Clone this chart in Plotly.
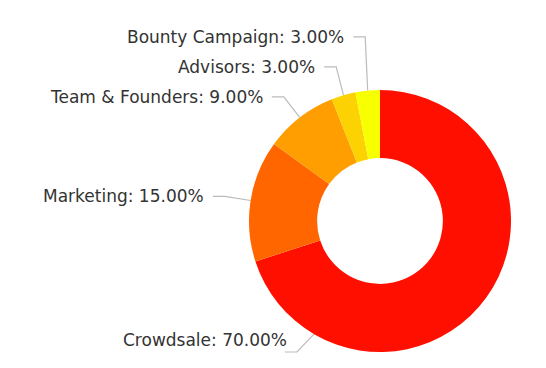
import math
import plotly.graph_objects as go

# ---- data ----
labels = ["Crowdsale", "Marketing", "Team & Founders", "Advisors", "Bounty Campaign"]
values = [70, 15, 9, 3, 3]
colors = ["#FF0F00", "#FF6600", "#FF9E01", "#FCD202", "#F8FF01"]

# ---- layout constants (page pixels) ----
PAGE_W, PAGE_H = 546, 368
OFF = 8                      # default page body margin
W, H = PAGE_W - 2 * OFF, PAGE_H - 2 * OFF
CX, CY, R = 380, 221, 131
HOLE = 0.48
ELBOW_R = 157
MIN_GAP = 30
TICK = 12
TEXT_GAP = 7
LEFT_FRAC = 0.42
MAX_ELBOW_Y = 352
MAX_TEXT_Y = 340

total = sum(values)
start = 0.0
anchors = []
for v in values:
    a0 = start / total * 360
    a1 = (start + v) / total * 360
    mid = (a0 + a1) / 2
    if 0 < mid < 180:  # labels are all placed on the left side
        mid = 180 + LEFT_FRAC * (a1 - 180)
    anchors.append(mid)
    start += v

pts = []
for a in anchors:
    rad = math.radians(a)
    ax, ay = CX + R * math.sin(rad), CY - R * math.cos(rad)
    ex, ey = CX + ELBOW_R * math.sin(rad), CY - ELBOW_R * math.cos(rad)
    if ey > MAX_ELBOW_Y:
        ex, ey = ex - 4, MAX_ELBOW_Y
    pts.append([ax, ay, ex, ey])

# resolve collisions in the upper part: push labels upward (keep elbow x)
upper = sorted([i for i in range(len(pts)) if pts[i][3] < CY], key=lambda i: -pts[i][3])
for k in range(1, len(upper)):
    i, j = upper[k], upper[k - 1]
    if pts[i][3] > pts[j][3] - MIN_GAP:
        pts[i][3] = pts[j][3] - MIN_GAP

lx, ly = [], []
annotations = []
for i, (ax, ay, ex, ey) in enumerate(pts):
    lx += [ax, ex, ex - TICK, None]
    ly += [ay, ey, ey, None]
    pct = values[i] / total * 100
    ty = ey
    tx = ex - TICK - TEXT_GAP
    if ty > MAX_TEXT_Y:
        ty = MAX_TEXT_Y
        tx = ex - 8
    annotations.append(dict(
        x=tx, y=ty, xref="x", yref="y",
        text=f"{labels[i]}: {pct:.2f}%", showarrow=False,
        xanchor="right", yanchor="middle",
        font=dict(family="DejaVu Sans", size=17, color="#333333"),
    ))

fig = go.Figure()
fig.add_trace(go.Pie(
    labels=labels, values=values, sort=False, direction="clockwise", rotation=0,
    hole=HOLE, marker=dict(colors=colors, line=dict(width=0)),
    textinfo="none", hoverinfo="label+percent", showlegend=False,
    domain=dict(x=[(CX - R - OFF) / W, (CX + R - OFF) / W],
                y=[1 - (CY + R - OFF) / H, 1 - (CY - R - OFF) / H]),
))
fig.add_trace(go.Scatter(
    x=lx, y=ly, mode="lines", line=dict(color="#bbbbbb", width=1.2),
    hoverinfo="skip", showlegend=False,
))
fig.update_layout(
    width=W, height=H, margin=dict(l=0, r=0, t=0, b=0),
    paper_bgcolor="white", plot_bgcolor="rgba(0,0,0,0)",
    xaxis=dict(range=[OFF, OFF + W], visible=False, fixedrange=True),
    yaxis=dict(range=[OFF + H, OFF], visible=False, fixedrange=True),
    annotations=annotations,
)
fig.write_html("out.html")
